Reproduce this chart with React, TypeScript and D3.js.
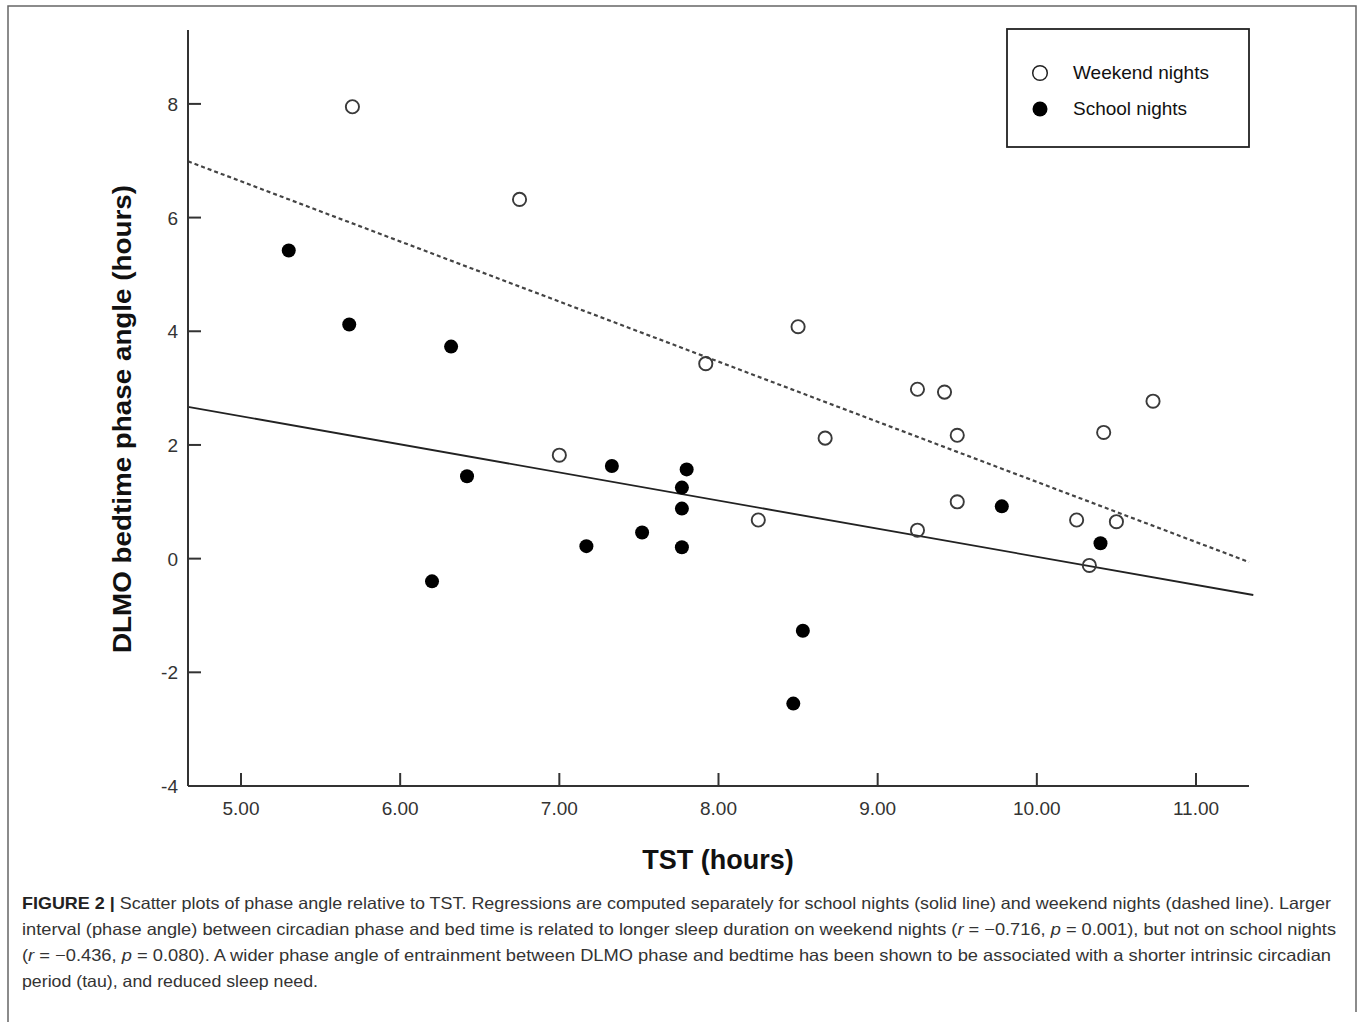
import React from "react";
import * as d3 from "d3";

// ---- data ----
const weekendTST = [5.70, 6.75, 7.00, 7.92, 8.50, 8.25, 8.67, 9.25, 9.42, 9.50, 9.50, 9.25, 10.25, 10.33, 10.42, 10.50, 10.73];
const weekendPhase = [7.95, 6.32, 1.82, 3.43, 4.08, 0.68, 2.12, 2.98, 2.93, 2.17, 1.00, 0.50, 0.68, -0.12, 2.22, 0.65, 2.77];
const schoolTST = [5.30, 5.68, 6.32, 6.42, 6.20, 7.17, 7.33, 7.52, 7.77, 7.77, 7.77, 7.80, 8.53, 8.47, 9.78, 10.40];
const schoolPhase = [5.42, 4.12, 3.73, 1.45, -0.40, 0.22, 1.63, 0.46, 1.25, 0.88, 0.20, 1.57, -1.27, -2.55, 0.92, 0.27];
// regression line end points [TST, phase]
const weekendFit = [[4.667, 6.99], [11.333, -0.06]];
const schoolFit = [[4.667, 2.67], [11.36, -0.64]];
const xTicks = [5, 6, 7, 8, 9, 10, 11];
const yTicks = [-4, -2, 0, 2, 4, 6, 8];
const xDomain = [4.667, 11.333];
const yDomain = [-4, 9.3];
const legendLabels = ["Weekend nights", "School nights"];
const captionLines = [
  { parts: [["FIGURE 2 | ", "b"], ["Scatter plots of phase angle relative to TST. Regressions are computed separately for school nights (solid line) and weekend nights (dashed line). Larger", ""]], width: 1309 },
  { parts: [["interval (phase angle) between circadian phase and bed time is related to longer sleep duration on weekend nights (", ""], ["r", "i"], [" = \u22120.716, ", ""], ["p", "i"], [" = 0.001), but not on school nights", ""]], width: 1314 },
  { parts: [["(", ""], ["r", "i"], [" = \u22120.436, ", ""], ["p", "i"], [" = 0.080). A wider phase angle of entrainment between DLMO phase and bedtime has been shown to be associated with a shorter intrinsic circadian", ""]], width: 1309 },
  { parts: [["period (tau), and reduced sleep need.", ""]], width: 296 },
];

const FONT = "'Liberation Sans', Arial, Helvetica, sans-serif";

export default function App() {
  const x = d3.scaleLinear().domain(xDomain).range([188, 1249]);
  const y = d3.scaleLinear().domain(yDomain).range([786, 30]);
  const line = d3.line<number[]>().x((d) => x(d[0])).y((d) => y(d[1]));
  const x0 = x(xDomain[0]);
  const y0 = y(yDomain[0]);

  return (
    <svg
      width={1360}
      height={1022}
      style={{ position: "absolute", left: 0, top: 0, background: "#fff" }}
      fontFamily={FONT}
    >
      <rect x={0} y={0} width={1360} height={1022} fill="#fff" />
      {/* outer frame */}
      <path d="M8,1022 V6 H1356 V1012" fill="none" stroke="#666" strokeWidth={1.5} />

      {/* regression lines */}
      <path d={line(weekendFit) || ""} fill="none" stroke="#444" strokeWidth={2.2} strokeDasharray="4,3" />
      <path d={line(schoolFit) || ""} fill="none" stroke="#222" strokeWidth={1.8} />

      {/* axes */}
      <line x1={x0} x2={x0} y1={y(yDomain[1])} y2={y0} stroke="#333" strokeWidth={2} />
      <line x1={x0} x2={x(xDomain[1])} y1={y0} y2={y0} stroke="#333" strokeWidth={2} />
      {yTicks.map((t) => (
        <g key={"y" + t}>
          <line x1={x0} x2={x0 + 13} y1={y(t)} y2={y(t)} stroke="#333" strokeWidth={2} />
          <text x={178} y={y(t) + 7} textAnchor="end" fontSize={19} fill="#333">{t}</text>
        </g>
      ))}
      {xTicks.map((t) => (
        <g key={"x" + t}>
          <line x1={x(t)} x2={x(t)} y1={y0} y2={y0 - 13} stroke="#333" strokeWidth={2} />
          <text x={x(t)} y={815} textAnchor="middle" fontSize={19} fill="#333">{t.toFixed(2)}</text>
        </g>
      ))}

      {/* axis titles */}
      <text
        transform={`translate(131,419) rotate(-90)`}
        textAnchor="middle"
        fontSize={25}
        fontWeight="bold"
        fill="#111"
        textLength={468}
        lengthAdjust="spacingAndGlyphs"
      >
        DLMO bedtime phase angle (hours)
      </text>
      <text x={718} y={869} textAnchor="middle" fontSize={27} fontWeight="bold" fill="#111">
        TST (hours)
      </text>

      {/* points */}
      {weekendTST.map((v, i) => (
        <circle key={"w" + i} cx={x(v)} cy={y(weekendPhase[i])} r={6.6} fill="none" stroke="#3a3a3a" strokeWidth={1.9} />
      ))}
      {schoolTST.map((v, i) => (
        <circle key={"s" + i} cx={x(v)} cy={y(schoolPhase[i])} r={7} fill="#000" />
      ))}

      {/* legend */}
      <rect x={1007} y={29} width={242} height={118} fill="#fff" stroke="#222" strokeWidth={1.8} />
      <circle cx={1040} cy={73} r={7.3} fill="#fff" stroke="#222" strokeWidth={1.5} />
      <text x={1073} y={79} fontSize={19} fill="#111">{legendLabels[0]}</text>
      <circle cx={1040} cy={109} r={7.5} fill="#000" />
      <text x={1073} y={115} fontSize={19} fill="#111">{legendLabels[1]}</text>

      {/* caption */}
      {captionLines.map((ln, i) => (
        <text
          key={"c" + i}
          x={22}
          y={909 + i * 26}
          fontSize={16.5}
          fill="#333"
          textLength={ln.width}
          lengthAdjust="spacingAndGlyphs"
        >
          {ln.parts.map((p, j) => (
            <tspan
              key={j}
              fontWeight={p[1] === "b" ? "bold" : "normal"}
              fontStyle={p[1] === "i" ? "italic" : "normal"}
              fill={p[1] === "b" ? "#222" : "#333"}
            >
              {p[0]}
            </tspan>
          ))}
        </text>
      ))}
    </svg>
  );
}
